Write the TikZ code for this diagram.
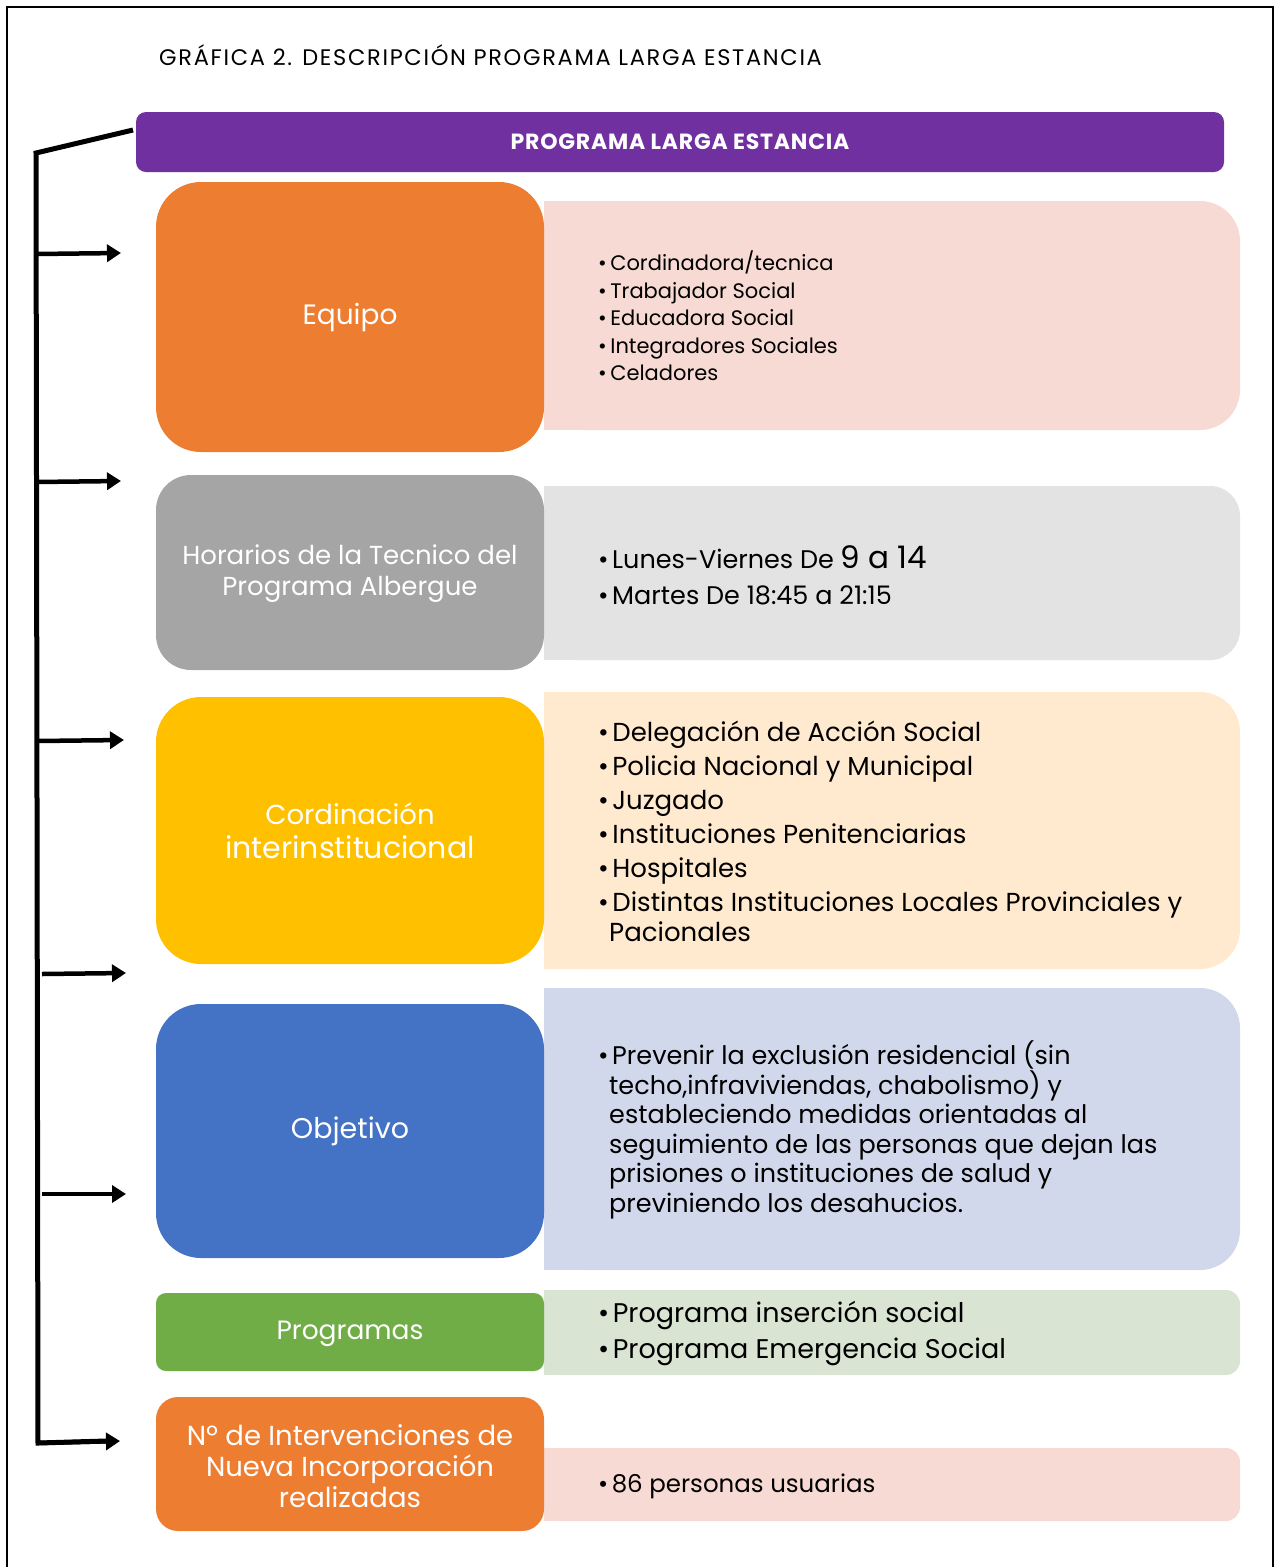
\documentclass[tikz,border=0pt]{standalone}
\usepackage{fontspec}
\setmainfont{Poppins}
\usetikzlibrary{arrows.meta}
\definecolor{purpleC}{HTML}{7030A0}
\definecolor{orangeC}{HTML}{ED7D31}
\definecolor{grayC}{HTML}{A5A5A5}
\definecolor{yellowC}{HTML}{FFC000}
\definecolor{blueC}{HTML}{4472C4}
\definecolor{greenC}{HTML}{70AD47}
\definecolor{pinkL}{HTML}{F7DAD3}
\definecolor{grayL}{HTML}{E3E3E3}
\definecolor{yellowL}{HTML}{FFE9CF}
\definecolor{blueL}{HTML}{D1D8EB}
\definecolor{greenL}{HTML}{D9E4D3}
\newcommand\bul{\textbullet\hspace{3.5pt}}
\newcommand\ind{\hspace{11pt}}
\begin{document}
\begin{tikzpicture}[x=1pt,y=-1pt,
  darkbox/.style={minimum width=388pt, inner sep=0pt, text=white, align=center},
  lightbox/.style={minimum width=696pt, inner sep=0pt},
  listtext/.style={anchor=west, align=left, inner sep=0pt, text=black},
  bar/.style={line width=5pt, black},
  arr/.style={line width=4.5pt, black, -{Triangle[length=14pt,width=17pt]}}
]
\useasboundingbox (0,0) rectangle (1276,1567);
% frame
\draw[line width=2pt] (7,1567) -- (7,7) -- (1273,7) -- (1273,1567);

% title
\node[anchor=west, inner sep=0pt, font=\fontsize{22.5}{26}\selectfont\addfontfeatures{LetterSpace=7.5}] (title) at (159,55) {GRÁFICA 2. DESCRIPCIÓN PROGRAMA LARGA ESTANCIA};

% header
\node[fill=purpleC, rounded corners=10pt, minimum width=1088pt, minimum height=60pt, inner sep=0pt, text=white, font=\bfseries\fontsize{22}{26}\selectfont\addfontfeatures{LetterSpace=3.5}] (hdr) at (680,142) {PROGRAMA LARGA ESTANCIA};

% light boxes
\node[lightbox, fill=pinkL, rounded corners=40pt, minimum height=229pt] (eqL) at (892,315.5) {};
\fill[pinkL] (eqL.north west) rectangle (eqL.south);
\node[lightbox, fill=grayL, rounded corners=30pt, minimum height=174pt] (horL) at (892,573) {};
\fill[grayL] (horL.north west) rectangle (horL.south);
\node[lightbox, fill=yellowL, rounded corners=40pt, minimum height=277pt] (corL) at (892,830.5) {};
\fill[yellowL] (corL.north west) rectangle (corL.south);
\node[lightbox, fill=blueL, rounded corners=40pt, minimum height=282pt] (objL) at (892,1129) {};
\fill[blueL] (objL.north west) rectangle (objL.south);
\node[lightbox, fill=greenL, rounded corners=14pt, minimum height=85pt] (progL) at (892,1332.5) {};
\fill[greenL] (progL.north west) rectangle (progL.south);
\node[lightbox, fill=pinkL, rounded corners=14pt, minimum height=73pt] (numL) at (892,1484.5) {};
\fill[pinkL] (numL.north west) rectangle (numL.south);

% dark boxes
\node[darkbox, fill=orangeC, rounded corners=45pt, minimum height=270pt, font=\fontsize{28}{32}\selectfont] (eq) at (350,317) {Equipo};
\node[darkbox, fill=grayC, rounded corners=35pt, minimum height=195pt, font=\fontsize{26}{31}\selectfont] (hor) at (350,572.5) {};
\node[align=center, text=white, inner sep=0pt, font=\fontsize{26}{31}\selectfont] (horT0) at (350,574) {Horarios de la Tecnico del\\Programa Albergue};
\node[darkbox, fill=yellowC, rounded corners=45pt, minimum height=267pt, font=\fontsize{27.5}{34}\selectfont] (cor) at (350,830.5) {Cordinación\\{\fontsize{30}{34}\selectfont interinstitucional}};
\node[darkbox, fill=blueC, rounded corners=45pt, minimum height=254pt, font=\fontsize{28.5}{32}\selectfont] (obj) at (350,1131) {Objetivo};
\node[darkbox, fill=greenC, rounded corners=10pt, minimum height=78pt, font=\fontsize{26.5}{30}\selectfont] (prog) at (350,1332) {};
\node[text=white, inner sep=0pt, font=\fontsize{26.5}{30}\selectfont] (progT0) at (350,1334) {Programas};
\node[darkbox, fill=orangeC, rounded corners=22pt, minimum height=134pt, font=\fontsize{27.5}{31}\selectfont] (num) at (350,1464) {};
\node[align=center, text=white, inner sep=0pt, font=\fontsize{27.5}{31}\selectfont] (numT0) at (350,1466) {Nº de Intervenciones de\\Nueva Incorporación\\realizadas};

% list texts
\node[listtext, font=\fontsize{21}{27.5}\selectfont] (eqT) at (598,316) {\bul Cordinadora/tecnica\\\bul Trabajador Social\\\bul Educadora Social\\\bul Integradores Sociales\\\bul Celadores};
\node[listtext, font=\fontsize{25.5}{36}\selectfont] (horT) at (598,575) {\bul Lunes-Viernes De {\fontsize{31}{36}\selectfont 9 a 14}\\\bul Martes De 18:45 a 21:15};
\node[listtext, font=\fontsize{26}{34}\selectfont] (corT) at (598,831) {\bul Delegación de Acción Social\\\bul Policia Nacional y Municipal\\\bul Juzgado\\\bul Instituciones Penitenciarias\\\bul Hospitales\\\bul Distintas Instituciones Locales Provinciales y\\[-4pt]\ind Pacionales};
\node[listtext, font=\fontsize{25.5}{29.5}\selectfont] (objT) at (598,1130) {\bul Prevenir la exclusión residencial (sin\\\ind techo,infraviviendas, chabolismo) y\\\ind estableciendo medidas orientadas al\\\ind seguimiento de las personas que dejan las\\\ind prisiones o instituciones de salud y\\\ind previniendo los desahucios.};
\node[listtext, font=\fontsize{27}{36}\selectfont] (progT) at (598,1333) {\bul Programa inserción social\\\bul Programa Emergencia Social};
\node[listtext, font=\fontsize{24.5}{30}\selectfont] (numT) at (598,1486) {\bul 86 personas usuarias};

% bracket
\coordinate (hin) at (133,130);
\coordinate (btop) at (36,153);
\coordinate (bbot) at (38,1443);
\coordinate (bend) at (120,1441);
\draw[bar, line join=miter] (hin) -- (btop) -- (bbot) -- ([xshift=-14pt]bend);
\draw[arr] (bbot) -- (bend);

\coordinate (s1) at (36,254);  \coordinate (e1) at (121,253);
\coordinate (s2) at (36,482);  \coordinate (e2) at (121,481);
\coordinate (s3) at (37,741);  \coordinate (e3) at (124,740);
\coordinate (s4) at (42,974);  \coordinate (e4) at (126,973);
\coordinate (s5) at (42,1194); \coordinate (e5) at (126,1194);
\draw[arr] (s1) -- (e1);
\draw[arr] (s2) -- (e2);
\draw[arr] (s3) -- (e3);
\draw[arr] (s4) -- (e4);
\draw[arr] (s5) -- (e5);
\end{tikzpicture}
\end{document}
